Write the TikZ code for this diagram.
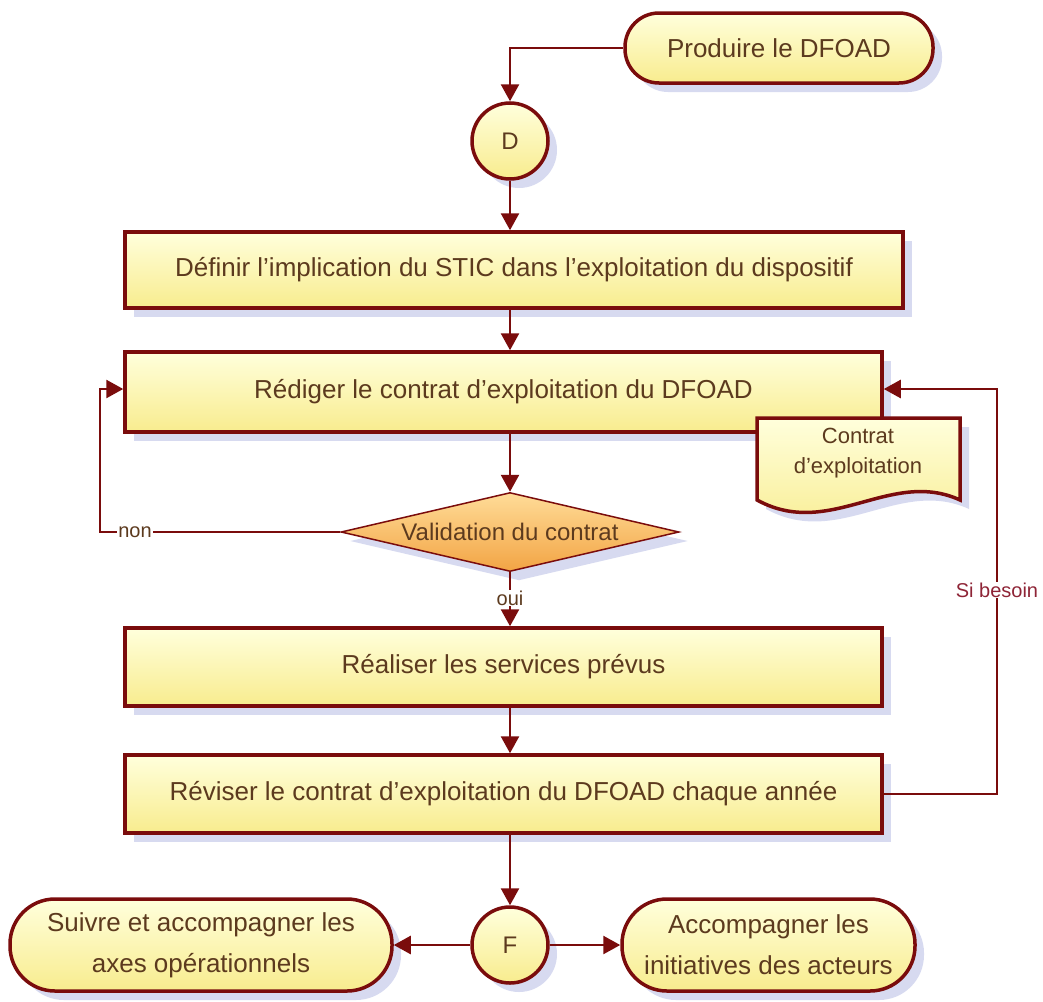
\documentclass[tikz,border=0pt]{standalone}
\usepackage{fontspec}
\setmainfont{Liberation Sans}
\usetikzlibrary{shapes.geometric,shadows,arrows.meta}
\definecolor{bord}{HTML}{7A0C0C}
\definecolor{txt}{HTML}{5C3A1E}
\definecolor{ytop}{HTML}{FFFFDC}
\definecolor{ybot}{HTML}{F8EC8E}
\definecolor{otop}{HTML}{FFDC98}
\definecolor{obot}{HTML}{F2A444}
\definecolor{shad}{HTML}{D3D6EE}
\definecolor{lblred}{HTML}{8E2436}
\begin{document}
\begin{tikzpicture}[x=1pt,y=-1pt,
  base/.style={draw=bord, line width=3.5pt, top color=ytop, bottom color=ybot,
    text=txt, align=center, inner sep=0pt,
    font=\fontsize{26}{41}\selectfont,
    drop shadow={shadow xshift=9pt, shadow yshift=-9pt, fill=shad, opacity=0.9}},
  box/.style 2 args={base, rectangle, minimum width=#1, minimum height=#2},
  pill/.style 2 args={base, rectangle, rounded corners=#2/2-1pt, minimum width=#1, minimum height=#2},
  conn/.style={draw=bord, line width=2.6pt, -{Triangle[length=17pt,width=18pt]}},
  lbl/.style={fill=white, inner sep=1pt, text=txt, font=\fontsize{20}{22}\selectfont},
]
\useasboundingbox (0,0) rectangle (1043,1001);

% nodes
\node[pill={308pt}{70pt}] (prod) at (779,48) {Produire le DFOAD};
\node[base, circle, minimum size=76pt, font=\fontsize{24}{26}\selectfont] (D) at (510,141) {D};
\node[box={778pt}{76pt}] (b1) at (514,270) {Définir l’implication du STIC dans l’exploitation du dispositif};
\node[box={757pt}{80pt}] (b2) at (503.5,392) {Rédiger le contrat d’exploitation du DFOAD};

% document
\begin{scope}[shift={(9,9)}]
\fill[shad, opacity=0.9] (757,418) -- (960,418) -- (960,500) .. controls (890,468) and (830,540) .. (757,500) -- cycle;
\end{scope}
\draw[bord, line width=3.5pt, top color=ytop, bottom color=ybot] (757,418) -- (960,418) -- (960,500) .. controls (890,468) and (830,540) .. (757,500) -- cycle;
\node[text=txt, align=center, font=\fontsize{22}{30}\selectfont] (doctext) at (858,453) {Contrat\\d’exploitation};

\node[base, diamond, top color=otop, bottom color=obot, minimum width=338pt, minimum height=79pt, aspect=4.3, line width=1.5pt, font=\fontsize{24}{28}\selectfont] (dia) at (510,532) {Validation du contrat};
\node[box={757pt}{78pt}] (b3) at (503.5,667) {Réaliser les services prévus};
\node[box={757pt}{78pt}] (b4) at (503.5,794) {Réviser le contrat d’exploitation du DFOAD chaque année};
\node[base, circle, minimum size=76pt, font=\fontsize{24}{26}\selectfont] (F) at (510,945) {F};
\node[pill={382pt}{92pt}] (sl) at (201,945) {Suivre et accompagner les\\axes opérationnels};
\node[pill={293pt}{92pt}] (sr) at (768.5,945) {Accompagner les\\initiatives des acteurs};

% connectors
\draw[conn] (prod.west) -| (D.north);
\draw[conn] (D.south) -- (D.south |- b1.north);
\draw[conn] (b1.south -| D.south) -- (D.south |- b2.north);
\draw[conn] (b2.south -| D.south) -- (dia.north);
\coordinate (nonc) at (100,532);
\draw[conn] (dia.west) -- (nonc) |- ([yshift=3pt]b2.west);
\node[lbl] (non) at (135,532) {non};
\draw[conn] (dia.south) -- (dia.south |- b3.north);
\node[lbl] (oui) at (510,598) {oui};
\draw[conn] (b3.south -| D.south) -- (D.south |- b4.north);
\coordinate (sib) at (997,794);
\draw[conn] (b4.east) -- (sib) |- ([yshift=3pt]b2.east);
\node[lbl, text=lblred] (besoin) at (997,590) {Si besoin};
\draw[conn] (b4.south -| F.north) -- (F.north);
\draw[conn] (F.west) -- (sl.east);
\draw[conn] (F.east) -- (sr.west);
\end{tikzpicture}
\end{document}
